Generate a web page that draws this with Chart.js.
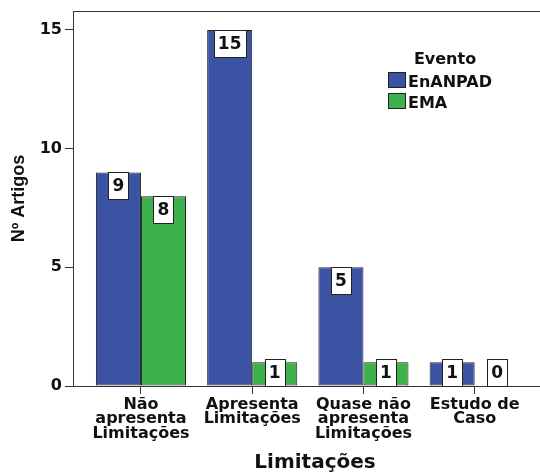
<!DOCTYPE html>
<html>
<head>
<meta charset="utf-8">
<script src="https://cdn.jsdelivr.net/npm/chart.js@4.4.1/dist/chart.umd.min.js"></script>
<style>
    html, body { margin: 0; padding: 0; background: #fff; overflow: hidden; width: 540px; height: 472px; }
</style>
</head>
<body>
<canvas id="chart_limitacoes" width="560" height="472"></canvas>
<script>
// data
const categories = [
    ['Não', 'apresenta', 'Limitações'],
    ['Apresenta', 'Limitações'],
    ['Quase não', 'apresenta', 'Limitações'],
    ['Estudo de', 'Caso']
];
const seriesNames = ['EnANPAD', 'EMA'];
const enanpad = [9, 15, 5, 1];
const ema = [8, 1, 1, 0];
const yTicks = [0, 5, 10, 15];
const yMax = 15.8;
const legendTitle = 'Evento';

const BLUE = '#3b53a2';
const GREEN = '#3cb14c';
const LINE = '#333';
const FONT = '"DejaVu Sans", sans-serif';

// white boxes with the value, at the top of each bar
const boxLabels = {
    id: 'boxLabels',
    afterDatasetsDraw(chart) {
        const ctx = chart.ctx;
        const base = chart.scales.y.getPixelForValue(0);
        ctx.save();
        ctx.font = 'bold 17px ' + FONT;
        ctx.textAlign = 'center';
        ctx.textBaseline = 'middle';
        chart.data.datasets.forEach((ds, i) => {
            chart.getDatasetMeta(i).data.forEach((bar, j) => {
                const txt = String(ds.data[j].y);
                const w = Math.round(ctx.measureText(txt).width + 8);
                const h = 27;
                const top = Math.round(Math.min(bar.y, base - h));
                const left = Math.round(bar.x - w / 2);
                ctx.fillStyle = '#fff';
                ctx.fillRect(left, top, w, h);
                ctx.strokeStyle = '#222';
                ctx.lineWidth = 1;
                ctx.strokeRect(left + 0.5, top + 0.5, w, h);
                ctx.fillStyle = '#111';
                ctx.fillText(txt, bar.x, top + h / 2 + 1);
            });
        });
        ctx.restore();
    }
};

// top frame line + legend with title
const frameAndLegend = {
    id: 'frameAndLegend',
    beforeDatasetsDraw(chart) {
        const a = chart.chartArea;
        const ctx = chart.ctx;
        ctx.save();
        ctx.strokeStyle = LINE;
        ctx.lineWidth = 1;
        ctx.beginPath();
        ctx.moveTo(a.left, a.top + 0.5);
        ctx.lineTo(a.right, a.top + 0.5);
        ctx.stroke();
        ctx.restore();
    },
    afterDraw(chart) {
        const ctx = chart.ctx;
        ctx.save();
        ctx.font = 'bold 16px ' + FONT;
        ctx.fillStyle = '#111';
        ctx.textAlign = 'center';
        ctx.fillText(legendTitle, 445, 64);
        ctx.textAlign = 'left';
        chart.data.datasets.forEach((ds, i) => {
            const y = 72 + i * 21;
            ctx.fillStyle = ds.backgroundColor;
            ctx.fillRect(388, y, 17, 15);
            ctx.strokeStyle = '#222';
            ctx.strokeRect(388.5, y + 0.5, 17, 15);
            ctx.fillStyle = '#111';
            ctx.fillText(ds.label, 408, y + 15);
        });
        ctx.restore();
    }
};

const ctx = document.getElementById('chart_limitacoes');

const limitacoes_chart = new Chart(ctx, {
    type: 'bar',
    data: {
        datasets: [
            {
                label: seriesNames[0],
                data: enanpad.map((v, i) => ({x: i, y: v})),
                backgroundColor: BLUE,
                borderColor: '#222',
                borderWidth: 1,
                borderSkipped: false
            },
            {
                label: seriesNames[1],
                data: ema.map((v, i) => ({x: i, y: v})),
                backgroundColor: GREEN,
                borderColor: '#222',
                borderWidth: 1,
                borderSkipped: false
            }
        ]
    },
    options: {
        responsive: false,
        animation: false,
        devicePixelRatio: 1,
        categoryPercentage: 0.81,
        barPercentage: 1.0,
        layout: {
            padding: {left: 0, top: 11, right: 3, bottom: 0}
        },
        plugins: {
            legend: {display: false},
            tooltip: {enabled: false}
        },
        scales: {
            x: {
                type: 'linear',
                offset: false,
                min: -0.611,
                max: 3.74,
                afterBuildTicks: scale => {
                    scale.ticks = categories.map((c, i) => ({value: i}));
                },
                afterFit: scale => { scale.height = 86; },
                grid: {
                    offset: false,
                    drawOnChartArea: false,
                    drawTicks: true,
                    tickLength: 8,
                    color: LINE
                },
                border: {display: true, color: LINE, width: 1},
                ticks: {
                    autoSkip: false,
                    maxRotation: 0,
                    padding: 3,
                    color: '#111',
                    font: {family: FONT, size: 16, weight: 'bold', lineHeight: 0.92},
                    callback: value => categories[value]
                },
                title: {
                    display: true,
                    text: 'Limitações',
                    color: '#111',
                    font: {family: FONT, size: 20, weight: 'bold', lineHeight: 0.9},
                    padding: {top: 0, bottom: 0}
                }
            },
            y: {
                min: 0,
                max: yMax,
                afterBuildTicks: scale => {
                    scale.ticks = yTicks.map(v => ({value: v}));
                },
                afterFit: scale => { scale.width = 73; },
                grid: {
                    drawOnChartArea: false,
                    drawTicks: true,
                    tickLength: 8,
                    color: LINE
                },
                border: {display: true, color: LINE, width: 1},
                ticks: {
                    padding: 3,
                    color: '#111',
                    font: {family: FONT, size: 16, weight: 'bold', lineHeight: 1}
                },
                title: {
                    display: true,
                    text: 'Nº Artigos',
                    color: '#111',
                    font: {family: '"Liberation Sans", Arial, sans-serif', size: 18, weight: 'bold', lineHeight: 1.2},
                    padding: {top: 8, bottom: 0}
                }
            }
        }
    },
    plugins: [frameAndLegend, boxLabels]
});
</script>
</body>
</html>
